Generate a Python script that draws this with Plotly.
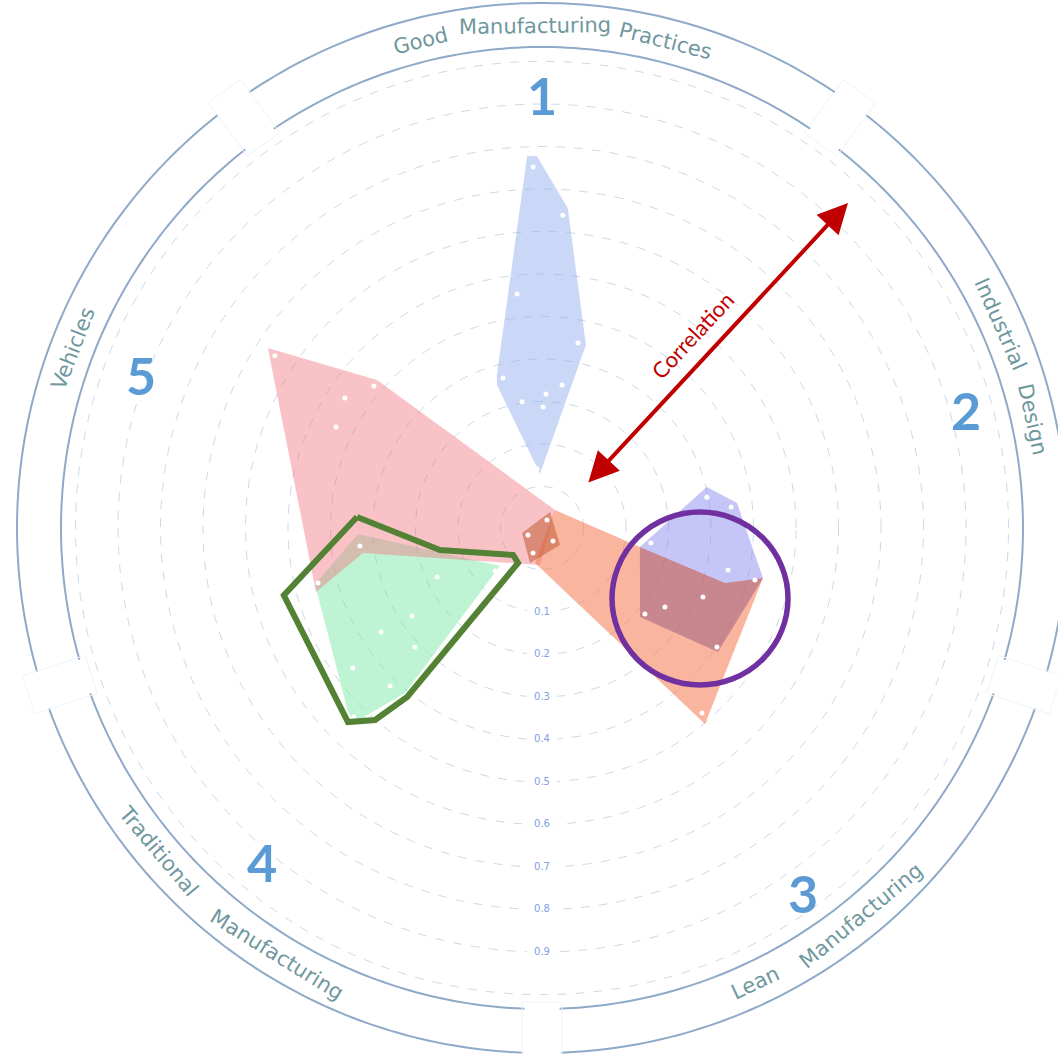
import numpy as np
import plotly.graph_objects as go

# ---------------------------------------------------------------- data ----
categories = ["Good Manufacturing Practices", "Industrial Design",
              "Lean Manufacturing", "Traditional Manufacturing", "Vehicles"]
category_theta = [0, 72, 144, 216, 288]
sector_numbers = ["1", "2", "3", "4", "5"]

radial_tick_values = [0.1, 0.2, 0.3, 0.4, 0.5, 0.6, 0.7, 0.8, 0.9]
radial_tick_labels = ["0.1", "0.2", "0.3", "0.4", "0.5", "0.6", "0.7", "0.8", "0.9"]
grid_values = [0.0, 0.1, 0.2, 0.3, 0.4, 0.5, 0.6, 0.7, 0.8, 0.9, 1.0]

# Good Manufacturing Practices (blue, sector 1)
gmp_area_r = [0.778, 0.778, 0.658, 0.345, 0.030, 0.255, 0.278]
gmp_area_theta = [357.7, 359.2, 4.6, 13.5, 357.9, 342.5, 343.6]
gmp_points_r = [0.752, 0.640, 0.456, 0.346, 0.267, 0.242, 0.218, 0.203, 0.187, 0.042]
gmp_points_theta = [358.6, 3.8, 353.9, 11.0, 345.4, 8.0, 1.7, 351.0, 0.5, 355.2]

# Industrial Design (lavender, sector 2)
ind_area_r = [0.302, 0.365, 0.4355, 0.352, 0.137]
ind_area_theta = [76.0, 82.7, 102.75, 106.7, 101.0]
ind_points_r = [0.297, 0.350, 0.161, 0.351]
ind_points_theta = [79.4, 83.7, 97.8, 102.7]

# Correlated cluster (dark red, sectors 2/3)
corr_area_r = [0.137, 0.352, 0.4355, 0.409, 0.214]
corr_area_theta = [101.0, 106.7, 102.75, 125.2, 132.2]
corr_points_r = [0.418, 0.3145, 0.246, 0.218, 0.400]
corr_points_theta = [103.7, 113.2, 122.7, 129.9, 124.2]

# Lean Manufacturing (salmon, sector 3)
lean_area_r = [-0.0454, 0.137, 0.352, 0.4355, 0.502, -0.0137]
lean_area_theta = [35.8, 101.0, 106.7, 102.75, 140.25, 191.3]
lean_points_r = [0.478]
lean_points_theta = [139.15]

# Vehicles (pink, sector 5)
veh_area_r = [0.674, 0.424, -0.0454, -0.0105, 0.3276, 0.455]
veh_area_theta = [303.3, 311.9, 35.8, 183.1, 262.05, 254.2]
veh_points_r = [0.650, 0.420, 0.458, 0.442]
veh_points_theta = [302.8, 310.2, 303.4, 296.1]

# Traditional Manufacturing (green, sector 4)
trad_area_r = [0.4525, 0.3355, 0.0356, 0.407, 0.5365, 0.5315]
trad_area_theta = [256.1, 268.1, 227.9, 219.7, 223.9, 226.5]
trad_points_r = [0.3327, 0.445, 0.175, 0.052, 0.272, 0.353, 0.312, 0.456, 0.418, 0.530]
trad_points_theta = [264.35, 256.2, 245.0, 227.5, 235.9, 237.1, 226.9, 233.5, 223.9, 224.85]

# Centre cluster (dark orange)
core_area_r = [-0.0555, -0.0394, -0.0106, -0.0492]
core_area_theta = [26.6, 133.4, 198.9, 256.0]
core_points_r = [-0.0755, -0.0576, -0.0351, -0.0608]
core_points_theta = [32.0, 139.8, 199.8, 243.4]

# Highlight outline around the green group
highlight_r = [0.3384, 0.148, -0.0045, 0.002, 0.411, 0.501, 0.548, 0.530, 0.3384]
highlight_theta = [273.4, 257.8, 227.0, 214.4, 218.6, 221.0, 225.0, 255.4, 273.4]

# ---------------------------------------------------------- geometry ----
W, H = 1058, 1055
CX, CY = 542.0, 528.0          # polar centre (px)
R_POLAR = 516.0                # polar radius (px)
PX_PER_UNIT = 425.0
R_MIN = -41.5 / PX_PER_UNIT
R_MAX = R_MIN + R_POLAR / PX_PER_UNIT


def paper(px, py):
    return px / W, 1 - py / H


def polar_px(theta_deg, rpx):
    t = np.radians(theta_deg)
    return CX + rpx * np.sin(t), CY - rpx * np.cos(t)


fig = go.Figure()

# radial tick labels (on the downward axis)
fig.add_trace(go.Scatterpolar(
    r=radial_tick_values, theta=[180] * len(radial_tick_values),
    mode="markers+text", text=radial_tick_labels,
    textposition="middle center",
    textfont=dict(family="DejaVu Sans", size=10, color="#7f9fe6"),
    marker=dict(symbol="square", size=30, color="white"),
    hoverinfo="skip"))


def area(r, theta, fill):
    fig.add_trace(go.Scatterpolar(r=r, theta=theta, mode="lines", fill="toself",
                                  fillcolor=fill, line=dict(width=0), hoverinfo="skip"))


def dots(r, theta):
    fig.add_trace(go.Scatterpolar(r=r, theta=theta, mode="markers",
                                  marker=dict(size=5, color="white"), hoverinfo="skip"))


area(trad_area_r, trad_area_theta, "rgba(110,230,160,0.45)")
area(veh_area_r, veh_area_theta, "rgba(240,120,130,0.45)")
area(lean_area_r, lean_area_theta, "rgba(245,120,80,0.55)")
area(ind_area_r, ind_area_theta, "rgba(140,140,240,0.5)")
area(corr_area_r, corr_area_theta, "rgba(150,88,125,0.5)")
area(gmp_area_r, gmp_area_theta, "rgba(150,175,240,0.5)")
area(core_area_r, core_area_theta, "rgba(200,100,65,0.6)")

for rr, tt in [(trad_points_r, trad_points_theta), (veh_points_r, veh_points_theta),
               (lean_points_r, lean_points_theta), (ind_points_r, ind_points_theta),
               (corr_points_r, corr_points_theta), (gmp_points_r, gmp_points_theta),
               (core_points_r, core_points_theta)]:
    dots(rr, tt)

fig.add_trace(go.Scatterpolar(r=highlight_r, theta=highlight_theta, mode="lines",
                              line=dict(color="#548235", width=6), hoverinfo="skip"))

# ------------------------------------------------------------ shapes ----
shapes = []


def arc_path(rpx, t0, t1, n=80):
    pts = []
    for t in np.linspace(t0, t1, n):
        x, y = polar_px(t, rpx)
        xp, yp = paper(x, y)
        pts.append(f"{xp:.5f},{yp:.5f}")
    return "M " + " L ".join(pts)


boundaries = [c + 36 for c in category_theta]
for b in boundaries:
    for rpx in (481, 525):
        shapes.append(dict(type="path", xref="paper", yref="paper",
                           path=arc_path(rpx, b + 2.1, b + 72 - 2.1),
                           line=dict(color="#8eaac8", width=2)))
    # faint gap box
    t = np.radians(b)
    d = np.array([np.sin(t), -np.cos(t)])
    tg = np.array([np.cos(t), np.sin(t)])
    corners = []
    for rr, ss in [(474, -20), (540, -20), (540, 20), (474, 20)]:
        p = np.array([CX, CY]) + d * rr + tg * ss
        xp, yp = paper(p[0], p[1])
        corners.append(f"{xp:.5f},{yp:.5f}")
    shapes.append(dict(type="path", xref="paper", yref="paper",
                       path="M " + " L ".join(corners) + " Z",
                       line=dict(color="#f0f3f7", width=1)))

# purple highlight circle
x0, y1 = paper(612, 512)
x1, y0 = paper(788, 685)
shapes.append(dict(type="circle", xref="paper", yref="paper",
                   x0=x0, x1=x1, y0=y0, y1=y1,
                   line=dict(color="#7030a0", width=5.5)))

# ------------------------------------------------------- annotations ----
annotations = []
label_words = [("Good", 346.0), ("Manufacturing", 359.2), ("Practices", 14.2),
               ("Industrial", 66.1), ("Design", 77.5),
               ("Lean", 154.9), ("Manufacturing", 140.6),
               ("Traditional", 229.9), ("Manufacturing", 211.8),
               ("Vehicles", 291.0)]
for word, th in label_words:
    x, y = polar_px(th, 502)
    xp, yp = paper(x, y)
    ang = th if (th < 90 or th > 270) else th - 180
    if ang > 180:
        ang -= 360
    annotations.append(dict(x=xp, y=yp, xref="paper", yref="paper", text=word,
                            showarrow=False, textangle=ang,
                            font=dict(family="DejaVu Sans", size=21, color="#6f989e"),
                            xanchor="center", yanchor="middle"))

number_pos = [(542, 95), (966, 410), (803, 893), (262, 862), (141, 375)]
for num, (px, py) in zip(sector_numbers, number_pos):
    xp, yp = paper(px, py)
    annotations.append(dict(x=xp, y=yp, xref="paper", yref="paper", text=f"<b>{num}</b>",
                            showarrow=False,
                            font=dict(family="Lato", size=52, color="#5b9bd5"),
                            xanchor="center", yanchor="middle"))

hx, hy = paper(848, 203)
annotations.append(dict(x=hx, y=hy, xref="paper", yref="paper", text="",
                        showarrow=True, ax=587 - 848, ay=484 - 203,
                        arrowhead=2, startarrowhead=2, arrowside="end+start",
                        arrowsize=1.5, startarrowsize=1.5, arrowwidth=4,
                        arrowcolor="#c00000", standoff=0, startstandoff=0))
cx_, cy_ = paper(692, 335)
annotations.append(dict(x=cx_, y=cy_, xref="paper", yref="paper", text="Correlation",
                        showarrow=False, textangle=-47,
                        font=dict(family="Lato", size=22, color="#c00000"),
                        xanchor="center", yanchor="middle"))

fig.update_layout(
    width=W, height=H, autosize=False,
    margin=dict(l=0, r=0, t=0, b=0),
    paper_bgcolor="white", showlegend=False,
    polar=dict(
        domain=dict(x=[(CX - R_POLAR) / W, (CX + R_POLAR) / W],
                    y=[1 - (CY + R_POLAR) / H, 1 - (CY - R_POLAR) / H]),
        bgcolor="white",
        angularaxis=dict(rotation=90, direction="clockwise", showgrid=False,
                         showline=False, showticklabels=False, ticks=""),
        radialaxis=dict(range=[R_MIN, R_MAX], tickvals=grid_values,
                        showticklabels=False, ticks="", showline=False,
                        gridcolor="rgba(160,185,210,0.55)", griddash="dash",
                        gridwidth=1),
    ),
    shapes=shapes, annotations=annotations,
)

fig.write_html("out.html",
               config={"displayModeBar": False},
               post_script="document.body.style.margin='0px';"
                           "document.body.style.overflow='hidden';")
